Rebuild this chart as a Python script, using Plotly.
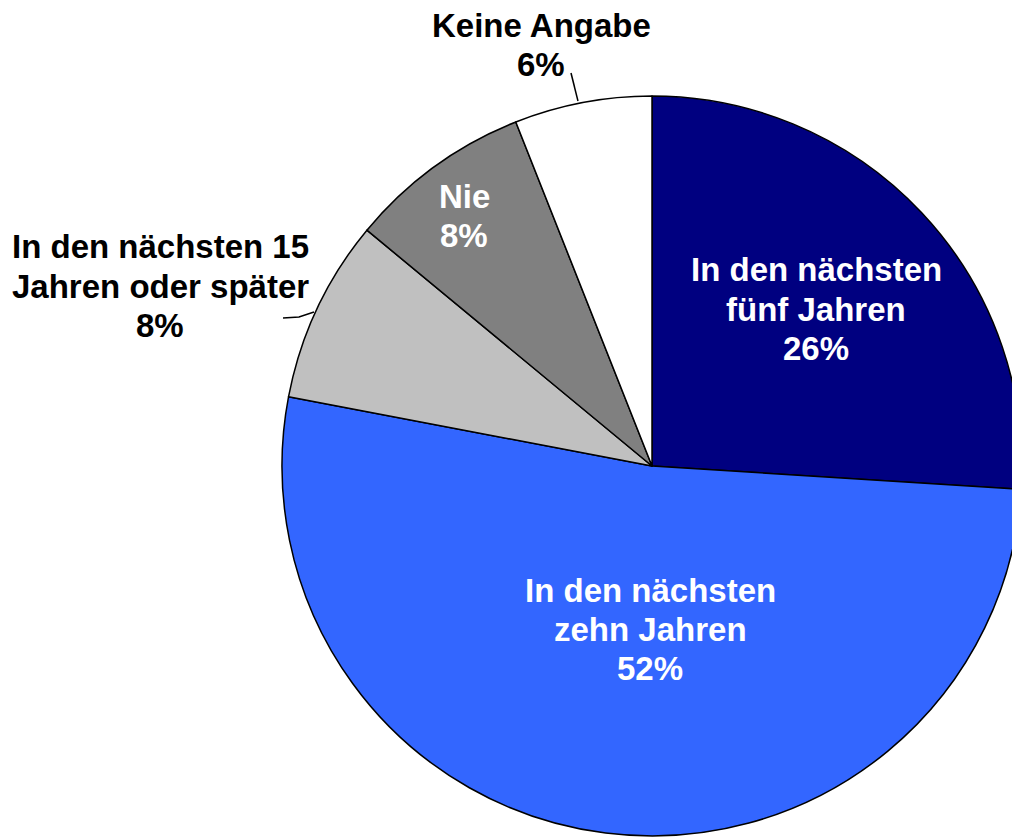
"""Pie chart: wann wird ... erwartet (Anteile in Prozent)."""

import plotly.graph_objects as go

W, H = 1020, 838
OFF = 8  # the page body adds an 8px margin; shift everything back by that

labels = [
    "In den nächsten fünf Jahren",
    "In den nächsten zehn Jahren",
    "In den nächsten 15 Jahren oder später",
    "Nie",
    "Keine Angabe",
]
values = [26, 52, 8, 8, 6]
colors = ["#000080", "#3366FF", "#C0C0C0", "#808080", "#FFFFFF"]

# label lines (as broken in the original)
label_lines = [
    ["In den nächsten", "fünf Jahren"],
    ["In den nächsten", "zehn Jahren"],
    ["In den nächsten 15", "Jahren oder später"],
    ["Nie"],
    ["Keine Angabe"],
]
# centre x and y of the first line, in screen pixels
label_pos = [(816, 270), (650, 590), (160, 247), (464, 196), (541, 25)]
label_color = ["white", "white", "black", "white", "black"]
LINE_H = 39

FONT = "Liberation Sans, Arial, sans-serif"
CX, CY, R = 652, 466, 370


def px(x, y):
    return (x - OFF) / W, 1 - (y - OFF) / H


fig = go.Figure(
    go.Pie(
        labels=labels,
        values=values,
        sort=False,
        direction="clockwise",
        rotation=0,
        marker=dict(colors=colors, line=dict(color="black", width=1.5)),
        textinfo="none",
        hoverinfo="label+percent",
        showlegend=False,
        domain=dict(x=[px(CX - R, 0)[0], px(CX + R, 0)[0]],
                    y=[px(0, CY + R)[1], px(0, CY - R)[1]]),
    )
)

for lines, v, (x, y), c in zip(label_lines, values, label_pos, label_color):
    for i, line in enumerate(lines + [f"{v}%"]):
        ax, ay = px(x, y + i * LINE_H)
        fig.add_annotation(
            x=ax, y=ay, xref="paper", yref="paper",
            text=f"<b>{line}</b>", showarrow=False,
            font=dict(family=FONT, size=33, color=c),
            xanchor="center", yanchor="middle", borderpad=0,
        )

# leader lines for the two outside labels
leaders = [
    [(571, 73), (578, 101)],
    [(283, 318), (299, 317), (314, 312)],
]
for pts in leaders:
    path = "M " + " L ".join(f"{px(x, y)[0]:.5f},{px(x, y)[1]:.5f}" for x, y in pts)
    fig.add_shape(type="path", path=path, xref="paper", yref="paper",
                  line=dict(color="black", width=1.5))

fig.update_layout(
    width=W, height=H,
    margin=dict(l=0, r=0, t=0, b=0),
    paper_bgcolor="white",
    plot_bgcolor="white",
)

fig.write_html("out.html")
